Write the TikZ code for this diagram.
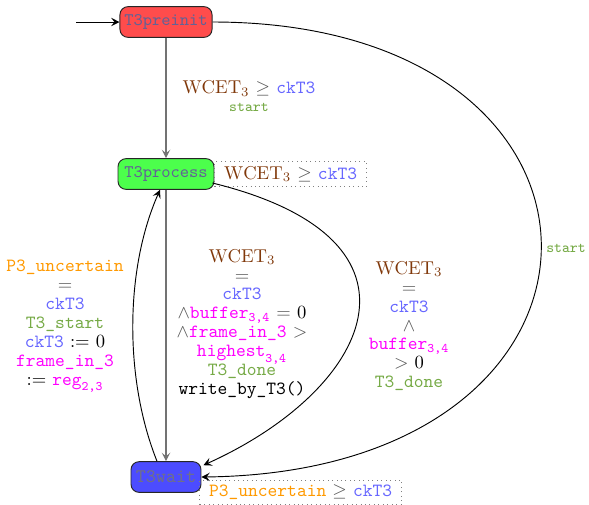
\documentclass[tikz,border=0pt]{standalone}
\usepackage{amsmath}
\usepackage{fontspec}
\usetikzlibrary{arrows.meta,calc}

\definecolor{wcetc}{RGB}{128,56,10}
\definecolor{clkc}{RGB}{102,102,255}
\definecolor{actc}{RGB}{118,170,70}
\definecolor{uncc}{RGB}{255,153,0}
\definecolor{sharedc}{RGB}{255,0,255}
\definecolor{opc}{RGB}{85,85,85}
\definecolor{locc}{RGB}{98,98,150}
\definecolor{waitc}{RGB}{112,112,135}

\newcommand\vWCET{$\textcolor{wcetc}{\mathrm{WCET}_3}$}
\newcommand\vCk{\textcolor{clkc}{\texttt{ckT3}}}
\newcommand\vOp[1]{\textcolor{opc}{$#1$}}

\tikzset{
  loc/.style={draw=black!85, rounded corners=4.3pt, font=\ttfamily\fontsize{9.5}{11}\selectfont,
    text=locc, minimum height=16.5pt, inner xsep=2pt, line width=0.5pt},
  trunk/.style={draw=black!55, line width=0.8pt, -{Stealth[length=4.5pt,width=4.5pt,inset=1.8pt]}},
  arc/.style={draw=black, line width=0.5pt, -{Stealth[length=4.5pt,width=4.5pt,inset=1.8pt]}},
  lbl/.style={align=center, font=\fontsize{10}{10.2}\selectfont, inner sep=0pt},
  inv/.style={draw=black!50, dotted, inner xsep=5pt, inner ysep=2.5pt, font=\fontsize{10}{12}\selectfont},
}

\begin{document}
\begin{tikzpicture}[x=0.5376pt,y=-0.5376pt]
\useasboundingbox (0,0) rectangle (589,504);

% locations
\node[loc, fill=red!70, minimum width=49.5pt] (preinit) at (166,22) {T3preinit};
\node[loc, fill=green!70, minimum width=51.6pt] (process) at (166,174) {T3process};
\node[loc, fill=blue!70, minimum width=37.6pt, text=waitc,
  font=\ttfamily\fontsize{10.3}{11}\selectfont] (wait) at (166,477) {T3wait};

% invariants
\node[inv, anchor=west] (invproc) at (process.east) {\vWCET{} \vOp{\geq} \vCk};
\node[inv, anchor=north west] (invwait) at ($(wait.east)+(-2,3)$)
  {\textcolor{uncc}{\texttt{P3\_uncertain}} \vOp{\geq} \vCk};

% initial marker
\coordinate (init) at (76,22);
\draw[arc] (init) -- (preinit.west);

% transitions
\draw[trunk] (preinit) -- (process);
\draw[trunk] (process) -- (wait);
\draw[arc] ($(wait.north)+(-9,0)$) .. controls (124.5,380) and (124.5,270) .. ($(process.south)+(-6,0)$);
\draw[arc] ($(process.east)+(-2,9)$) .. controls (445,240) and (370,390) .. ($(wait.north east)+(2,4)$);
\draw[arc] (preinit.east) .. controls (652,22) and (652,472) .. (wait.east);

% guards, synchronisations and updates
\node[lbl] (l1) at (249,96) {\vWCET{} \vOp{\geq} \vCk\\[-1pt]
  {\footnotesize\textcolor{actc}{\texttt{start}}}};

\node[lbl] (l2) at (242,324) {\vWCET\\ \vOp{=}\\ \vCk\\
  \vOp{\wedge}$\textcolor{sharedc}{\texttt{buffer}_{\texttt{3,4}}}$ \vOp{=} 0\\
  \vOp{\wedge}\textcolor{sharedc}{\texttt{frame\_in\_3}} \vOp{>}\\
  $\textcolor{sharedc}{\texttt{highest}_{\texttt{3,4}}}$\\
  \textcolor{actc}{\texttt{T3\_done}}\\
  \texttt{write\_by\_T3()}};

\node[lbl] (l3) at (65,326) {\textcolor{uncc}{\texttt{P3\_uncertain}}\\ \vOp{=}\\ \vCk\\
  \textcolor{actc}{\texttt{T3\_start}}\\
  \vCk{} $:=$ 0\\
  \textcolor{sharedc}{\texttt{frame\_in\_3}}\\
  $:=$ $\textcolor{sharedc}{\texttt{reg}_{\texttt{2,3}}}$};

\node[lbl] (l4) at (409,326) {\vWCET\\ \vOp{=}\\ \vCk\\ \vOp{\wedge}\\
  $\textcolor{sharedc}{\texttt{buffer}_{\texttt{3,4}}}$\\
  \vOp{>} 0\\
  \textcolor{actc}{\texttt{T3\_done}}};

\node[lbl, font=\footnotesize] (l5) at (566,248) {\textcolor{actc}{\texttt{start}}};
\end{tikzpicture}
\end{document}
